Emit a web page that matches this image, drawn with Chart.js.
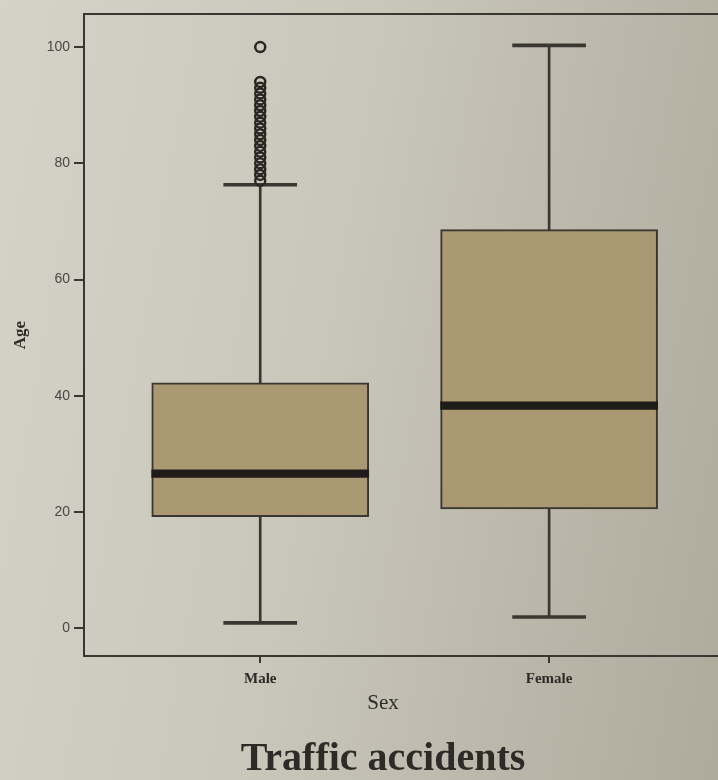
<!DOCTYPE html>
<html>
<head>
<meta charset="utf-8">
<script src="https://cdn.jsdelivr.net/npm/chart.js@4.4.1/dist/chart.umd.min.js"></script>
<style>
  html, body { margin: 0; padding: 0; overflow: hidden; }
  body {
    width: 718px; height: 780px;
    background: linear-gradient(100deg, #d5d3c8 0%, #c9c6ba 45%, #aeab9d 100%);
  }
  canvas { display: block; }
</style>
</head>
<body>
<canvas id="boxplot" width="718" height="780"></canvas>
<script>
// values (age of victims by sex)
const categories = ['Male', 'Female'];
const whiskerLow = [0.9, 1.9];
const q1 = [19.2, 20.5];
const median = [26.6, 38.3];
const q3 = [42.2, 68.6];
const whiskerHigh = [76.3, 100.3];
const maleOutliers = [77, 78, 79, 80, 81, 82, 83, 84, 85, 86, 87, 88, 89, 90, 91, 92, 93, 94, 100];
const yTicks = [0, 20, 40, 60, 80, 100];

const ink = '#3a3632';
const boxFill = '#a99872';

// x position of each category on the linear x scale
const xs = categories.map((c, i) => i + 1);

const frame = {
  id: 'frame',
  afterDraw(chart) {
    const {ctx, chartArea: a, width} = chart;
    ctx.save();
    ctx.strokeStyle = ink;
    ctx.lineWidth = 2;
    ctx.beginPath();
    ctx.moveTo(width, a.top);
    ctx.lineTo(a.left, a.top);
    ctx.lineTo(a.left, a.bottom);
    ctx.lineTo(width, a.bottom);
    ctx.stroke();
    ctx.restore();
  }
};

const barBase = { grouped: false, borderSkipped: false };

new Chart(document.querySelector('#boxplot'), {
  type: 'bar',
  data: {
    datasets: [
      {
        type: 'scatter',
        label: 'outliers',
        data: maleOutliers.map(v => ({x: xs[0], y: v})),
        pointStyle: 'circle',
        pointRadius: 5,
        pointBorderWidth: 2.5,
        borderColor: '#2a2624',
        backgroundColor: 'rgba(0,0,0,0)',
        order: 0
      },
      {
        ...barBase,
        label: 'median',
        data: xs.map((x, i) => ({x, y: [median[i] - 0.65, median[i] + 0.65]})),
        backgroundColor: '#1e1b19',
        borderWidth: 0,
        barThickness: 217,
        order: 1
      },
      {
        ...barBase,
        label: 'box',
        data: xs.map((x, i) => ({x, y: [q1[i], q3[i]]})),
        backgroundColor: boxFill,
        borderColor: ink,
        borderWidth: 2,
        barThickness: 217,
        order: 2
      },
      {
        ...barBase,
        label: 'caps low',
        data: xs.map((x, i) => ({x, y: [whiskerLow[i] - 0.25, whiskerLow[i] + 0.25]})),
        backgroundColor: ink,
        borderWidth: 0,
        barThickness: 73,
        order: 3
      },
      {
        ...barBase,
        label: 'caps high',
        data: xs.map((x, i) => ({x, y: [whiskerHigh[i] - 0.25, whiskerHigh[i] + 0.25]})),
        backgroundColor: ink,
        borderWidth: 0,
        barThickness: 73,
        order: 3
      },
      {
        ...barBase,
        label: 'whiskers',
        data: xs.map((x, i) => ({x, y: [whiskerLow[i], whiskerHigh[i]]})),
        backgroundColor: ink,
        borderWidth: 0,
        barThickness: 2,
        order: 4
      }
    ]
  },
  options: {
    responsive: false,
    animation: false,
    devicePixelRatio: 1,
    layout: { padding: { top: 14, right: 36, left: 0, bottom: 0 } },
    plugins: {
      legend: { display: false },
      tooltip: { enabled: false },
      title: {
        display: true,
        text: 'Traffic accidents',
        position: 'bottom',
        fullSize: false,
        color: '#2e2a27',
        font: { family: '"Liberation Serif", "DejaVu Serif", serif', size: 40, weight: 'bold', lineHeight: 1 },
        padding: 0
      }
    },
    scales: {
      x: {
        type: 'linear',
        offset: false,
        min: 0.39,
        max: 2.46,
        afterBuildTicks: s => { s.ticks = xs.map(v => ({value: v})); },
        afterFit: s => { s.height = 84; },
        grid: { display: true, offset: false, drawOnChartArea: false, drawTicks: true, tickLength: 7, color: ink, lineWidth: 2 },
        border: { display: false },
        ticks: {
          padding: 7,
          color: '#2e2a27',
          font: { family: '"Liberation Serif", serif', size: 15, weight: 'bold' },
          callback: v => categories[v - 1]
        },
        title: {
          display: true,
          text: 'Sex',
          color: '#2e2a27',
          font: { family: '"Liberation Serif", serif', size: 21 },
          padding: { top: 0, bottom: 24 }
        }
      },
      y: {
        min: -4.8,
        max: 105.7,
        afterBuildTicks: s => { s.ticks = yTicks.map(v => ({value: v})); },
        afterFit: s => { s.width = 84; },
        grid: { display: true, drawOnChartArea: false, drawTicks: true, tickLength: 10, color: ink, lineWidth: 2 },
        border: { display: false },
        ticks: {
          padding: 4,
          color: '#4a4846',
          font: { family: '"Liberation Sans", Arial, sans-serif', size: 14 }
        },
        title: {
          display: true,
          text: 'Age',
          color: '#2e2a27',
          font: { family: '"Liberation Serif", serif', size: 17, weight: 'bold' },
          padding: { top: 10, bottom: 0 }
        }
      }
    }
  },
  plugins: [frame]
});
</script>
</body>
</html>
